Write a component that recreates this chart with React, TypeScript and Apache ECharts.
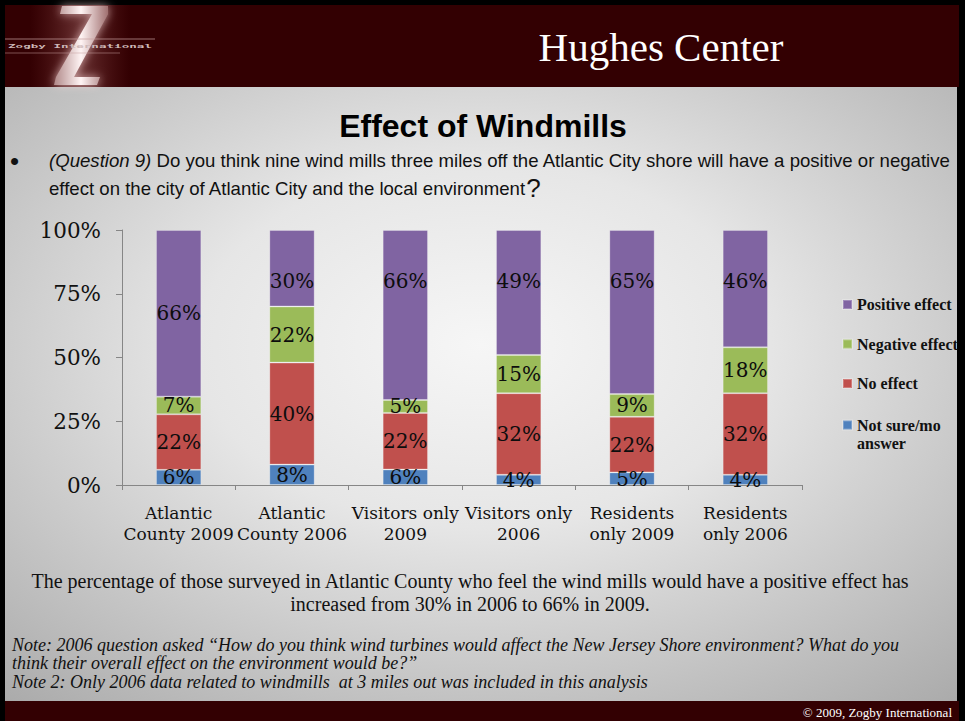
import React, { useEffect, useRef } from 'react';
import * as echarts from 'echarts';

const categories = [
  'Atlantic\nCounty 2009',
  'Atlantic\nCounty 2006',
  'Visitors only\n2009',
  'Visitors only\n2006',
  'Residents\nonly 2009',
  'Residents\nonly 2006',
];
const notSure = [6, 8, 6, 4, 5, 4];
const noEffect = [22, 40, 22, 32, 22, 32];
const negative = [7, 22, 5, 15, 9, 18];
const positive = [66, 30, 66, 49, 65, 46];
const yTicks = [0, 25, 50, 75, 100];

const seriesNames = ['Not sure/mo answer', 'No effect', 'Negative effect', 'Positive effect'];
const seriesValues = [notSure, noEffect, negative, positive];
const seriesColors = ['#4F81BD', '#C0504D', '#9BBB59', '#8064A2'];

const SERIF = '"DejaVu Serif", serif';
const TIMES = '"Liberation Serif", serif';
const SANS = '"Liberation Sans", Arial, sans-serif';

export default function App() {
  const ref = useRef<HTMLDivElement>(null);
  useEffect(() => {
    if (!ref.current) return;
    const chart = echarts.init(ref.current, undefined, { renderer: 'svg' });
    const totals = categories.map((_, i) => seriesValues.reduce((s, arr) => s + arr[i], 0));

    const series = seriesNames.map((name, si) => ({
      name,
      type: 'bar',
      stack: 'total',
      barWidth: '40%',
      itemStyle: { color: seriesColors[si], borderColor: 'rgba(255,255,255,0.25)', borderWidth: 1 },
      label: {
        show: true,
        position: si === 3 ? 'insideTop' : 'inside',
        distance: 41,
        fontFamily: SERIF,
        fontSize: 20,
        color: '#0d0d0d',
        formatter: (p: any) => seriesValues[si][p.dataIndex] + '%',
      },
      data: seriesValues[si].map((v, i) => {
        const val = (v / totals[i]) * 100;
        if (si === 3 && i === 0) return { value: val, label: { position: 'inside' } };
        return val;
      }),
    }));

    const legendText = { fontFamily: TIMES, fontWeight: 'bold' as const, fontSize: 16, color: '#111', lineHeight: 18 };

    chart.setOption({
      animation: false,
      backgroundColor: '#000',
      graphic: [
        { type: 'rect', z: -10, shape: { x: 5, y: 5, width: 954, height: 82 }, style: { fill: '#330002' } },
        {
          type: 'rect', z: -10, shape: { x: 5, y: 87, width: 952, height: 614 },
          style: {
            fill: {
              type: 'radial', x: 0.5, y: 0.42, r: 0.85,
              colorStops: [
                { offset: 0, color: '#f6f6f6' },
                { offset: 0.35, color: '#e6e6e6' },
                { offset: 1, color: '#a0a0a0' },
              ],
            },
          },
        },
        { type: 'rect', z: -10, shape: { x: 5, y: 701, width: 954, height: 20 }, style: { fill: '#330002' } },
        {
          type: 'rect', z: -9, shape: { x: 30, y: 5, width: 100, height: 82 },
          style: {
            fill: {
              type: 'linear', x: 0, y: 0, x2: 1, y2: 0,
              colorStops: [
                { offset: 0, color: 'rgba(120,50,50,0)' },
                { offset: 0.5, color: 'rgba(150,90,90,0.55)' },
                { offset: 1, color: 'rgba(120,50,50,0)' },
              ],
            },
          },
        },
        {
          type: 'polygon', z: -8,
          shape: { points: [[62, 6], [108, 6], [108, 14], [74, 77], [100, 77], [97, 85], [54, 85], [56, 77], [92, 14], [60, 14]] },
          style: {
            fill: {
              type: 'linear', x: 0, y: 0, x2: 1, y2: 0,
              colorStops: [
                { offset: 0, color: '#b08888' },
                { offset: 0.5, color: '#fff4f4' },
                { offset: 1, color: '#a07070' },
              ],
            },
            shadowBlur: 10, shadowColor: 'rgba(255,220,220,0.7)',
          },
        },
        { type: 'line', z: -7, shape: { x1: 5, y1: 39, x2: 155, y2: 39 }, style: { stroke: 'rgba(200,160,160,0.7)', lineWidth: 1 } },
        { type: 'line', z: -7, shape: { x1: 5, y1: 53, x2: 120, y2: 53 }, style: { stroke: 'rgba(200,160,160,0.5)', lineWidth: 1 } },
        {
          type: 'text', z: -6, x: 8, y: 46, scaleX: 2.1,
          style: { text: 'Zogby International', fontFamily: '"DejaVu Sans Mono", monospace', fontWeight: 'bold', fontSize: 6, fill: '#cdb8b8', verticalAlign: 'middle' },
        },
        {
          type: 'text', x: 661, y: 47,
          style: { text: 'Hughes Center', fontFamily: TIMES, fontSize: 41, fill: '#ffffff', align: 'center', verticalAlign: 'middle' },
        },
        {
          type: 'text', x: 483, y: 126,
          style: { text: 'Effect of Windmills', fontFamily: SANS, fontWeight: 'bold', fontSize: 32, fill: '#000', align: 'center', verticalAlign: 'middle' },
        },
        {
          type: 'text', x: 10, y: 161,
          style: { text: '•', fontFamily: SANS, fontSize: 26, fill: '#111', verticalAlign: 'middle' },
        },
        {
          type: 'text', x: 49, y: 160,
          style: {
            text: '{i|(Question 9)}{n| Do you think nine wind mills three miles off the Atlantic City shore will have a positive or negative}',
            verticalAlign: 'middle',
            rich: {
              i: { fontFamily: SANS, fontSize: 18.6, fontStyle: 'italic', fill: '#111' },
              n: { fontFamily: SANS, fontSize: 18.6, fill: '#111' },
            },
          },
        },
        {
          type: 'text', x: 49, y: 188,
          style: {
            text: '{n|effect on the city of Atlantic City and the local environment}{q|?}',
            verticalAlign: 'middle',
            rich: {
              n: { fontFamily: SANS, fontSize: 18.6, fill: '#111' },
              q: { fontFamily: SANS, fontSize: 26, fill: '#111' },
            },
          },
        },
        {
          type: 'text', x: 470, y: 592,
          style: {
            text: 'The percentage of those surveyed in Atlantic County who feel the wind mills would have a positive effect has\nincreased from 30% in 2006 to 66% in 2009.',
            fontFamily: TIMES, fontSize: 20, lineHeight: 23, fill: '#111', align: 'center', verticalAlign: 'middle',
          },
        },
        {
          type: 'text', x: 12, y: 663,
          style: {
            text: 'Note: 2006 question asked \u201cHow do you think wind turbines would affect the New Jersey Shore environment? What do you\nthink their overall effect on the environment would be?\u201d\nNote 2: Only 2006 data related to windmills  at 3 miles out was included in this analysis',
            fontFamily: TIMES, fontStyle: 'italic', fontSize: 18, lineHeight: 18.5, fill: '#111', verticalAlign: 'middle',
          },
        },
        {
          type: 'text', x: 952, y: 712,
          style: { text: '\u00a9 2009, Zogby International', fontFamily: TIMES, fontSize: 13, fill: '#ffffff', align: 'right', verticalAlign: 'middle' },
        },
      ],
      legend: [
        {
          data: ['Positive effect', 'Negative effect', 'No effect'].map((n) => ({ name: n, textStyle: legendText })),
          orient: 'vertical',
          left: 842,
          top: 295.5,
          padding: 0,
          itemWidth: 9,
          itemHeight: 9,
          itemGap: 21.5,
          icon: 'rect',
          selectedMode: false,
          textStyle: legendText,
        },
        {
          data: [{ name: 'Not sure/mo answer', textStyle: legendText }],
          orient: 'vertical',
          left: 842,
          top: 398,
          padding: 0,
          itemWidth: 9,
          itemHeight: 9,
          icon: 'rect',
          selectedMode: false,
          formatter: () => ' \nNot sure/mo\nanswer',
          textStyle: legendText,
        },
      ],
      grid: { left: 122, right: 163, top: 230, bottom: 236, containLabel: false },
      xAxis: {
        type: 'category',
        data: categories,
        axisLine: { show: true, lineStyle: { color: '#868686' } },
        axisTick: { show: true, length: 5, lineStyle: { color: '#868686' } },
        axisLabel: { interval: 0, fontFamily: SERIF, fontSize: 17, lineHeight: 21, color: '#111', margin: 17 },
      },
      yAxis: {
        type: 'value',
        min: yTicks[0],
        max: yTicks[yTicks.length - 1],
        interval: yTicks[1] - yTicks[0],
        axisLine: { show: true, lineStyle: { color: '#868686' } },
        axisTick: { show: true, length: 6, lineStyle: { color: '#868686' } },
        splitLine: { show: false },
        axisLabel: { formatter: '{value}%', fontFamily: SERIF, fontSize: 21.5, color: '#111', margin: 21 },
      },
      series,
    });
    return () => chart.dispose();
  }, []);
  return <div ref={ref} style={{ position: 'fixed', left: 0, top: 0, width: 965, height: 721 }} />;
}
